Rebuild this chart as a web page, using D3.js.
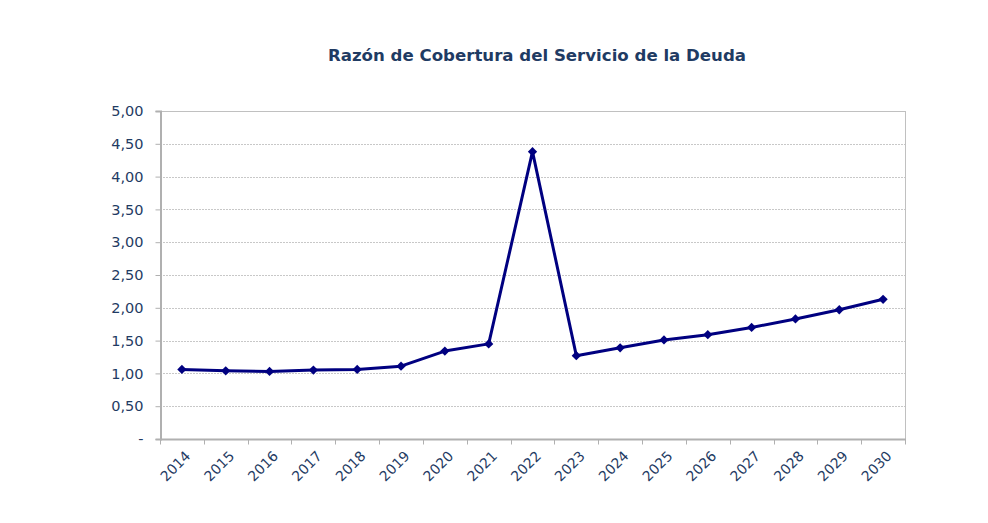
<!DOCTYPE html>
<html>
<head>
<meta charset="utf-8">
<script src="https://cdn.jsdelivr.net/npm/d3@7"></script>
<style>
  body { margin: 0; background: #fff; }
  text { font-family: "DejaVu Sans", Verdana, sans-serif; }
</style>
</head>
<body>
<svg width="988" height="523"></svg>
<script>
var years = ["2014", "2015", "2016", "2017", "2018", "2019", "2020", "2021", "2022",
             "2023", "2024", "2025", "2026", "2027", "2028", "2029", "2030"];
var ratio = [1.06, 1.04, 1.03, 1.05, 1.06, 1.11, 1.34, 1.45, 4.38,
             1.27, 1.39, 1.51, 1.59, 1.70, 1.83, 1.97, 2.13];
var yTicks = [0, 0.5, 1, 1.5, 2, 2.5, 3, 3.5, 4, 4.5, 5];
var title = "Razón de Cobertura del Servicio de la Deuda";

var svg = d3.select("svg"),
    margin = {top: 111, right: 83, bottom: 84, left: 160},
    width = +svg.attr("width") - margin.left - margin.right,
    height = +svg.attr("height") - margin.top - margin.bottom;

var textColor = "#1f3b63";

var x = d3.scaleBand().domain(years).range([0, width]),
    y = d3.scaleLinear().domain([0, 5]).range([height, 0]);

svg.append("text")
    .attr("x", 537)
    .attr("y", 61)
    .attr("text-anchor", "middle")
    .style("font-size", "16.6px")
    .style("font-weight", "bold")
    .style("fill", textColor)
    .text(title);

var g = svg.append("g")
    .attr("transform", "translate(" + margin.left + "," + margin.top + ")");

// gridlines
g.selectAll(".grid")
    .data(yTicks.filter(function(d) { return d > 0 && d < 5; }))
    .enter().append("line")
    .attr("x1", 0)
    .attr("x2", width)
    .attr("y1", function(d) { return Math.round(y(d)) + 0.5; })
    .attr("y2", function(d) { return Math.round(y(d)) + 0.5; })
    .style("stroke", "#c8c8c8")
    .style("stroke-width", 1)
    .style("stroke-dasharray", "2,1");

// plot border
g.append("rect")
    .attr("x", 0.5)
    .attr("y", 0.5)
    .attr("width", width)
    .attr("height", height)
    .style("fill", "none")
    .style("stroke", "#c0c0c0")
    .style("stroke-width", 1);

// y axis
var yAxis = d3.axisLeft(y)
    .tickValues(yTicks)
    .tickSize(5)
    .tickPadding(12)
    .tickFormat(function(d) { return d === 0 ? "-" : d3.format(".2f")(d).replace(".", ","); });

var ya = g.append("g").attr("transform", "translate(0.5,0)").call(yAxis);
ya.select(".domain").style("stroke", "#b0b0b0").style("stroke-width", 2);
ya.selectAll(".tick line").style("stroke", "#b0b0b0");
ya.selectAll(".tick text").style("font-size", "14.5px").style("fill", textColor);

// x axis with ticks on band boundaries
var xa = g.append("g").attr("transform", "translate(0," + (height + 0.5) + ")");
xa.append("line")
    .attr("x1", 0).attr("x2", width + 1)
    .style("stroke", "#b0b0b0").style("stroke-width", 2);
xa.selectAll(".xtick")
    .data(years.concat(["end"]))
    .enter().append("line")
    .attr("x1", function(d, i) { return Math.round(i * x.step()) + 0.5; })
    .attr("x2", function(d, i) { return Math.round(i * x.step()) + 0.5; })
    .attr("y1", 0).attr("y2", 5)
    .style("stroke", "#b0b0b0");
xa.selectAll(".xlabel")
    .data(years)
    .enter().append("text")
    .attr("transform", function(d) {
        return "translate(" + (x(d) + x.bandwidth() / 2 + 6) + ",14) rotate(-45)";
    })
    .attr("text-anchor", "end")
    .attr("dy", "0.35em")
    .style("font-size", "14px")
    .style("fill", textColor)
    .text(function(d) { return d; });

// line
var line = d3.line()
    .x(function(d, i) { return x(years[i]) + x.bandwidth() / 2; })
    .y(function(d) { return y(d); });

g.append("path")
    .datum(ratio)
    .attr("d", line)
    .style("fill", "none")
    .style("stroke", "#000080")
    .style("stroke-width", 3)
    .style("stroke-linejoin", "round");

g.selectAll(".pt")
    .data(ratio)
    .enter().append("path")
    .attr("d", d3.symbol().type(d3.symbolDiamond2).size(55))
    .attr("transform", function(d, i) {
        return "translate(" + (x(years[i]) + x.bandwidth() / 2) + "," + y(d) + ")";
    })
    .style("fill", "#000080");
</script>
</body>
</html>
